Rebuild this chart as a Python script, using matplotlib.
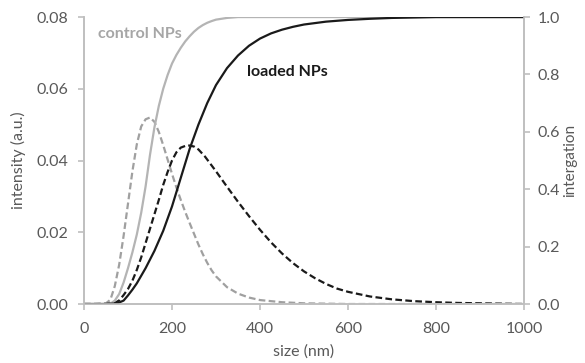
import matplotlib.pyplot as plt

plt.rcParams['font.family'] = ['Lato', 'DejaVu Sans']

# size (nm) grid for each curve
x_c = [0, 25, 50, 60, 70, 80, 90, 100, 110, 120, 130, 140, 150, 160, 170, 180,
       190, 200, 210, 220, 230, 240, 250, 260, 270, 280, 290, 300, 325, 350,
       375, 400, 450, 500, 600, 700, 800, 900, 1000]
control_int = [0, 0, 0.0002, 0.0012, 0.005, 0.011, 0.019, 0.028, 0.037, 0.0445,
               0.0495, 0.0515, 0.052, 0.0508, 0.048, 0.0443, 0.0403, 0.0363,
               0.0325, 0.0290, 0.0257, 0.0226, 0.0196, 0.0166, 0.0139, 0.0115,
               0.0094, 0.0077, 0.0047, 0.0029, 0.0018, 0.0011, 0.0005, 0.0002,
               0, 0, 0, 0, 0]

x_l = [0, 25, 50, 70, 80, 90, 100, 110, 120, 130, 140, 150, 160, 170, 180, 190,
       200, 210, 220, 235, 250, 260, 275, 300, 325, 350, 375, 400, 425, 450,
       475, 500, 525, 550, 575, 600, 650, 700, 750, 800, 850, 900, 950, 1000]
loaded_int = [0, 0, 0, 0.0003, 0.001, 0.0025, 0.0042, 0.0065, 0.0095, 0.013,
              0.017, 0.021, 0.025, 0.029, 0.0332, 0.0368, 0.0400, 0.0423,
              0.0436, 0.0443, 0.0439, 0.0431, 0.0411, 0.0370, 0.0327, 0.0285,
              0.0245, 0.0207, 0.0172, 0.0141, 0.0114, 0.0091, 0.0072, 0.0056,
              0.0043, 0.0034, 0.0021, 0.0013, 0.0008, 0.0005, 0.0003, 0.0002,
              0.0001, 0]

x_cc = [0, 50, 59, 70, 80, 90, 100, 110, 120, 130, 140, 150, 160, 170, 180, 190,
        200, 210, 220, 230, 240, 250, 260, 270, 280, 290, 300, 325, 350, 400,
        500, 600, 800, 1000]
control_cum = [0, 0, 0, 0.012, 0.035, 0.075, 0.125, 0.18, 0.242, 0.318, 0.41,
               0.52, 0.615, 0.69, 0.75, 0.798, 0.838, 0.868, 0.893, 0.915,
               0.933, 0.949, 0.962, 0.972, 0.980, 0.986, 0.991, 0.997, 1.0,
               1.0, 1.0, 1.0, 1.0, 1.0]

x_lc = [0, 50, 75, 90, 100, 110, 120, 140, 160, 180, 200, 220, 240, 260, 280,
        300, 325, 350, 375, 400, 425, 450, 475, 500, 550, 600, 650, 700, 800,
        900, 1000]
loaded_cum = [0, 0, 0.002, 0.012, 0.03, 0.05, 0.072, 0.125, 0.185, 0.255, 0.34,
              0.44, 0.54, 0.625, 0.70, 0.763, 0.822, 0.866, 0.900, 0.925, 0.943,
              0.956, 0.966, 0.974, 0.984, 0.990, 0.994, 0.997, 1.0, 1.0, 1.0]

grey_txt = '#595959'
axis_col = '#BFBFBF'

fig = plt.figure(figsize=(5.85, 3.63), dpi=100)
ax = fig.add_axes([0.1436, 0.1625, 0.7521, 0.7905])
ax2 = ax.twinx()

dash = (0, (3, 1.5))
ax.plot(x_c, control_int, color='#A0A0A0', lw=1.6, linestyle=dash)
ax.plot(x_l, loaded_int, color='#1A1A1A', lw=1.6, linestyle=dash)
ax2.plot(x_cc, control_cum, color='#B4B4B4', lw=1.6)
ax2.plot(x_lc, loaded_cum, color='#1A1A1A', lw=1.6)

ax.set_xlim(0, 1000)
ax.set_ylim(0, 0.08)
ax2.set_ylim(0, 1.0)
ax.set_xticks(range(0, 1001, 200))
ax.set_yticks([0, 0.02, 0.04, 0.06, 0.08])
ax.set_yticklabels(['0.00', '0.02', '0.04', '0.06', '0.08'])
ax2.set_yticks([0, 0.2, 0.4, 0.6, 0.8, 1.0])
ax2.set_yticklabels(['0.0', '0.2', '0.4', '0.6', '0.8', '1.0'])

for a in (ax, ax2):
    a.spines['top'].set_visible(False)
    for s in ('left', 'right', 'bottom'):
        a.spines[s].set_color(axis_col)
        a.spines[s].set_linewidth(1.2)
    a.tick_params(colors=axis_col, labelcolor=grey_txt, labelsize=11.5,
                  length=4, width=1.2, pad=7)
ax.tick_params(axis='x', pad=9)
ax2.tick_params(axis='y', pad=6)
ax.patch.set_visible(False)

ax.set_xlabel('size (nm)', color=grey_txt, fontsize=11.5, labelpad=6)
ax.set_ylabel('intensity (a.u.)', color=grey_txt, fontsize=11.5, labelpad=8)
ax2.set_ylabel('intergation', color=grey_txt, fontsize=11, labelpad=2)

ax.text(32, 0.0752, 'control NPs', color='#A6A6A6', fontsize=11.5,
        fontweight='bold', va='center', ha='left')
ax.text(370, 0.0648, 'loaded NPs', color='#1A1A1A', fontsize=11.5,
        fontweight='bold', va='center', ha='left')

fig.savefig('out.png', dpi=100)
